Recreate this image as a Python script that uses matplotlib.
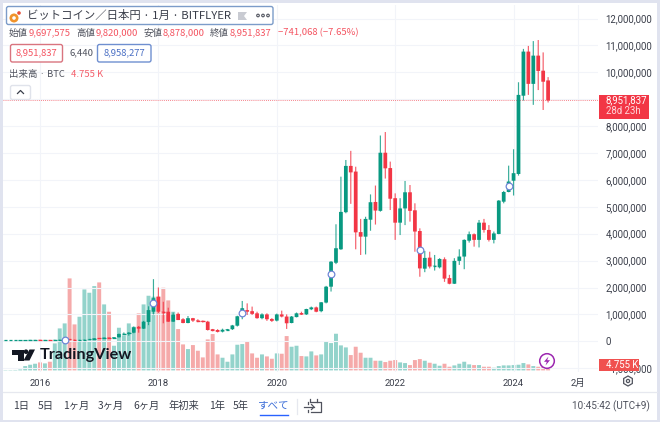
import matplotlib
matplotlib.use('Agg')
import matplotlib.pyplot as plt
from matplotlib.patches import Rectangle, FancyBboxPatch, Circle, Polygon, RegularPolygon
import numpy as np

plt.rcParams['font.family'] = ['Noto Sans CJK JP', 'DejaVu Sans']

# months counted from 2016-01, million yen
months = np.arange(-7, 104)
opens = [.028, .033, .032, .034, .038, .045, .052,
         .054, .044, .050, .049, .054, .060, .070, .065, .060, .062, .070, .080,
         .110, .109, .135, .120, .150, .270, .280, .320, .540, .470, .720, 1.10,
         1.66, 1.10, 1.10, .73, 1.02, .82, .68, .86, .78, .76, .73, .45,
         .42, .36, .41, .45, .58, .94, 1.16, 1.12, 1.04, .86, 1.00, .83,
         .77, 1.00, .92, .68, .90, 1.05, 1.00, 1.19, 1.26, 1.12, 1.44, 2.03,
         2.92, 3.42, 4.80, 6.52, 6.31, 4.06, 3.89, 4.52, 5.18, 4.85, 7.01, 6.44,
         5.32, 4.41, 4.94, 5.54, 4.87, 4.10, 2.70, 3.11, 2.80, 2.75, 3.05, 2.35,
         2.14, 2.99, 3.15, 3.74, 3.98, 3.77, 4.41, 4.14, 3.77, 3.99, 5.19, 5.55,
         5.97, 6.22, 9.13, 10.77, 9.57, 10.62, 10.06, 9.697575]
highs = [.034, .035, .035, .039, .046, .053, .056,
         .056, .052, .052, .056, .062, .072, .080, .072, .066, .072, .082, .115,
         .125, .140, .150, .155, .290, .330, .340, .550, .570, .760, 1.30,
         2.31, 2.00, 1.47, 1.25, 1.07, 1.07, .86, .94, .87, .82, .77, .76,
         .46, .45, .47, .46, .61, .95, 1.50, 1.41, 1.29, 1.10, 1.04, 1.04,
         .86, 1.03, 1.14, 1.00, .94, 1.07, 1.10, 1.21, 1.29, 1.29, 1.46, 2.06,
         2.98, 4.35, 6.12, 6.74, 7.08, 6.49, 4.55, 4.63, 5.46, 5.79, 7.65, 7.78,
         6.68, 5.50, 5.32, 5.96, 5.81, 5.13, 4.20, 3.36, 3.33, 3.21, 3.09, 3.12,
         2.47, 3.09, 3.42, 3.79, 4.08, 4.01, 4.51, 4.55, 4.32, 4.08, 5.25, 5.59,
         6.53, 7.14, 9.63, 10.87, 10.98, 11.16, 11.20, 10.74, 9.82]
lows = [.026, .031, .030, .033, .037, .044, .050,
        .042, .042, .047, .047, .052, .058, .060, .058, .058, .060, .066, .078,
        .100, .105, .110, .115, .140, .240, .210, .300, .320, .460, .600, 1.00,
        1.04, .67, .72, .72, .79, .67, .67, .72, .71, .70, .40, .37,
        .33, .33, .40, .42, .55, .82, .98, .98, .84, .82, .76, .72,
        .74, .89, .46, .67, .89, .98, .98, 1.16, 1.08, 1.08, 1.41, 1.85,
        2.87, 3.40, 4.76, 5.11, 3.42, 3.21, 3.23, 4.11, 4.34, 4.82, 6.05, 4.88,
        3.77, 3.95, 4.32, 4.45, 3.33, 2.40, 2.57, 2.71, 2.63, 2.71, 2.21, 2.12,
        2.13, 2.84, 2.68, 3.67, 3.52, 3.49, 4.04, 3.71, 3.64, 3.98, 5.13, 5.54,
        5.42, 6.16, 8.95, 9.16, 8.79, 9.34, 8.60, 8.878]
closes = [.033, .034, .034, .038, .045, .052, .054,
          .044, .050, .049, .054, .060, .070, .065, .060, .062, .070, .080, .110,
          .109, .135, .120, .150, .270, .280, .320, .520, .470, .730, 1.16, 1.60,
          1.10, 1.08, .73, 1.00, .79, .68, .86, .77, .76, .73, .42, .38,
          .35, .43, .45, .59, .93, 1.23, 1.10, 1.02, .86, 1.00, .82, .76,
          1.00, .92, .67, .92, 1.04, .99, 1.20, 1.26, 1.10, 1.45, 2.03, 2.96,
          3.46, 4.81, 6.52, 6.28, 4.05, 3.89, 4.55, 5.17, 4.86, 7.01, 6.43, 5.30,
          4.41, 4.94, 5.54, 4.85, 4.08, 2.71, 3.10, 2.78, 2.81, 3.06, 2.33, 2.14,
          2.99, 3.15, 3.77, 3.98, 3.77, 4.41, 4.14, 3.77, 4.01, 5.23, 5.55, 5.94,
          6.25, 9.16, 10.77, 9.57, 10.62, 10.05, 9.65, 8.951837]
# thousand BTC
volumes = [.3, .3, .4, .9, 3.9, 5.1, 6.0,
           7.2, 6.3, 7.8, 24.3, 37.8, 42.3, 82.8, 41.4, 48.3, 72.9, 69.9, 75.9,
           79.2, 59.4, 52.8, 22.2, 38.4, 31.5, 42.3, 39.3, 51.3, 59.4, 67.2, 66.3,
           66.3, 74.4, 63.0, 52.8, 37.2, 23.4, 19.2, 22.8, 17.7, 11.7, 27.9, 32.7,
           14.4, 11.4, 7.8, 14.4, 23.1, 23.7, 26.4, 15.3, 11.4, 14.4, 12.6, 10.5,
           15.3, 15.0, 30.9, 21.3, 22.2, 12.9, 12.6, 17.1, 13.5, 14.4, 26.4, 24.6,
           33.0, 22.5, 20.7, 13.8, 21.3, 15.9, 11.4, 11.4, 8.7, 8.7, 7.5, 8.7,
           9.3, 7.2, 6.6, 4.8, 9.3, 10.2, 8.7, 6.9, 6.0, 4.2, 6.0, 3.3,
           4.5, 6.0, 7.8, 5.4, 4.8, 4.8, 3.3, 3.3, 2.4, 3.9, 4.5, 4.5,
           4.8, 5.1, 6.6, 5.4, 3.9, 3.3, 3.0, 4.755]
# dividend style markers
event_months = [5, 23, 41, 59, 77, 95]
event_prices = [.05, 1.41, 1.07, 2.49, 3.38, 5.78]

year_ticks = [0, 24, 48, 72, 96, 109]
year_labels = ['2016', '2018', '2020', '2022', '2024', '2月']
price_ticks = list(range(-1, 13))

UP = '#089981'
DOWN = '#F23645'
VOL_UP = '#93D3CB'
VOL_DOWN = '#F5AAAA'
TXT = '#50535E'
W, H = 660, 422

fig = plt.figure(figsize=(W / 100, H / 100), dpi=100, facecolor='white')

# plot area in pixels
left, right, top, bottom = 3, 598, 5, 372
rect = [left / W, 1 - bottom / H, (right - left) / W, (bottom - top) / H]
xlim = ((left - 40) / 4.933, (right - 40) / 4.933)

ax_vol = fig.add_axes(rect, zorder=1)
ax = fig.add_axes(rect, zorder=2)
ax.patch.set_visible(False)

opens = np.array(opens)
closes = np.array(closes)
cols = [UP if c >= o else DOWN for o, c in zip(opens, closes)]
vol_cols = [VOL_UP if c >= o else VOL_DOWN for o, c in zip(opens, closes)]

# volume, snapping off so every bar keeps the same width
vol_bars = ax_vol.bar(months, volumes, width=0.8, color=vol_cols, linewidth=0)
for b in vol_bars:
    b.set_snap(False)
ax_vol.set_xlim(xlim)
ax_vol.set_ylim(-1.44, 328.9)
ax_vol.axis('off')

# candles
wicks = ax.vlines(months, lows, highs, colors=cols, linewidth=0.85, alpha=0.8, zorder=3)
wicks.set_snap(False)
bodies = ax.bar(months, np.abs(closes - opens), bottom=np.minimum(opens, closes), width=0.76,
                color=cols, linewidth=0, zorder=4)
for b in bodies:
    b.set_snap(False)
for i, o, c in zip(months, opens, closes):
    # flat months still need a visible dash
    if abs(c - o) < 0.05:
        ax.hlines((o + c) / 2, i - 0.36, i + 0.36, colors=UP if c >= o else DOWN, linewidth=0.9, zorder=4)

ax.plot(event_months, event_prices, 'o', ms=4.8, mfc='white', mec='#6F86D6', mew=0.9, zorder=5)
ax.axhline(closes[-1], color=DOWN, linestyle=(0, (1, 1.5)), linewidth=0.6, alpha=0.8, zorder=2)

ax.set_xlim(xlim)
ax.set_ylim((341.3 - bottom) / 26.9, (341.3 - top) / 26.9)
ax.set_yticks(price_ticks)
ax.set_yticklabels([f'{v * 1000000:,}'.replace('-', '\u2212') for v in price_ticks],
                   fontsize=6.9, color='#3A3E4A', family='Roboto', ha='left')
ax.yaxis.tick_right()
ax.set_xticks(year_ticks)
ax.set_xticklabels(year_labels, fontsize=6.8, color='#3A3E4A', family=['Roboto', 'Noto Sans CJK JP'])
ax.tick_params(axis='both', length=0)
ax.tick_params(axis='y', pad=5.3)
ax.tick_params(axis='x', pad=5)
ax.grid(True, color='#F2F4F9', linewidth=0.8, zorder=0)
ax.set_axisbelow(True)
for s in ax.spines.values():
    s.set_visible(False)

# widgets and legend drawn in pixel coordinates on top
ov = fig.add_axes([0, 0, 1, 1], zorder=5)
ov.set_xlim(0, W)
ov.set_ylim(H, 0)
ov.axis('off')


def txt(x, y, s, color=TXT, size=7.0, ha='left', **kw):
    ov.text(x, y, s, color=color, fontsize=size, ha=ha, va='center', **kw)


def box(x0, y0, x1, y1, ec, fc='white', lw=1.0, r=2):
    ov.add_patch(FancyBboxPatch((x0, y0), x1 - x0, y1 - y0, boxstyle=f'round,pad=0,rounding_size={r}',
                                ec=ec, fc=fc, lw=lw))


# page edges
ov.add_patch(Rectangle((0, 0), 3, H, fc='#E0E3EF', lw=0))
ov.add_patch(Rectangle((0, 0), W, 3, fc='#E0E3EF', lw=0))
ov.add_patch(Rectangle((657, 0), 3, H, fc='#E0E3EF', lw=0))
ov.add_patch(Rectangle((0, 420), W, 2, fc='#E0E3EF', lw=0))
ov.plot([3, 657], [392, 392], color='#E6E8EF', lw=0.9)

# title
box(6.5, 6.5, 273, 24.5, '#7C9CC9')
ov.add_patch(Circle((14, 18), 4.5, fc='#F0932B', lw=0))
ov.add_patch(Circle((14, 18), 1.8, fc='white', lw=0))
ov.add_patch(Circle((19, 13), 1.8, fc='#E8503A', lw=0))
txt(27, 15.5, 'ビットコイン／日本円 · 1月 · BITFLYER', color='#3A3E4A', size=8.2)
ov.add_patch(Polygon([(238, 12), (247, 12), (244, 16), (247, 20), (238, 20)], fc='#C9CBD2', lw=0))
for dx in (258, 263, 268):
    ov.add_patch(Circle((dx, 15.5), 1.3, fc='white', ec='#50535E', lw=0.8))

# OHLC row
row = [(9, '始値', TXT), (29, '9,697,575', DOWN), (76, '高値', TXT), (96, '9,820,000', DOWN),
       (143, '安値', TXT), (163, '8,878,000', DOWN), (210, '終値', TXT), (230, '8,951,837', DOWN),
       (278, '\u2212741,068 (\u22127.65%)', DOWN)]
for x, s, c in row:
    txt(x, 33, s, color=c, size=6.8, alpha=0.85 if c == DOWN else 1)

box(10.5, 44.5, 62.5, 62, '#D9747F')
txt(36.5, 53, '8,951,837', color=DOWN, size=6.8, ha='center', alpha=0.85)
txt(69, 53, '6,440', color=TXT, size=6.8)
box(97.5, 44.5, 151, 62, '#6F8FD0')
txt(124, 53, '8,958,277', color='#4A6FC4', size=6.8, ha='center')
txt(9, 74, '出来高 · BTC', size=6.8)
txt(71, 74.5, '4.755 K', color=DOWN, size=6.8, alpha=0.8)
box(10.5, 85.5, 30.5, 99.5, '#E0E3EB')
ov.plot([17.5, 20.5, 23.5], [93.5, 90.5, 93.5], color='#3A3E4A', lw=0.9)

# price labels on the scale
ov.add_patch(Rectangle((599, 95), 49.5, 23.5, fc='#F23645', lw=0))
txt(605.5, 100.7, '8,951,837', color='white', size=6.9, family='Roboto')
txt(605.5, 111.3, '28d 23h', color='#FFD7DB', size=6.9, family='Roboto')
ov.add_patch(Rectangle((599, 359), 39.5, 12, fc='#F0504F', lw=0))
txt(605.5, 365, '4.755 K', color='white', size=6.9, family='Roboto')

# TradingView mark
ov.add_patch(Polygon([(12, 349.5), (23.5, 349.5), (23.5, 360.5), (18, 360.5), (18, 354.5), (12, 354.5)],
                     fc='#131722', lw=0))
ov.add_patch(Circle((26, 351.7), 2.3, fc='#131722', lw=0))
ov.add_patch(Polygon([(29.5, 349.5), (35, 349.5), (29.5, 360.5), (23.5, 360.5)], fc='#131722', lw=0))
txt(39.5, 355, 'TradingView', color='#131722', size=11.7, family='Lato', fontweight='bold')

# lightning badge
ov.add_patch(Circle((547, 361), 7.3, fc='white', ec='#9C27B0', lw=1.1))
ov.add_patch(Polygon([(548.5, 356.5), (544, 361.8), (546.8, 361.8), (545.5, 365.5), (550, 360.2), (547.2, 360.2)],
                     fc='#9C27B0', lw=0))

# scale settings
ov.add_patch(RegularPolygon((628, 381), 6, radius=5, fc='white', ec='#50535E', lw=0.9))
ov.add_patch(Circle((628, 381), 1.6, fc='white', ec='#50535E', lw=0.9))

# range buttons
for x, s in [(21, '1日'), (46, '5日'), (76, '1ヶ月'), (111, '3ヶ月'), (146, '6ヶ月'),
             (184, '年初来'), (217, '1年'), (241, '5年')]:
    txt(x, 406, s, color='#3A3E4A', size=7.4, ha='center')
txt(274, 406, 'すべて', color='#3E6FD8', size=7.6, ha='center')
ov.plot([259.5, 288], [415, 415], color='#2962FF', lw=1.0)
ov.plot([297, 297], [399, 414], color='#E6E8EF', lw=0.9)

# date range icon
ic = '#50535E'
ov.plot([311, 321, 321, 311], [402, 402, 412, 412], color=ic, lw=0.9)
ov.plot([308, 308], [402, 404], color=ic, lw=0.9)
ov.plot([308, 308], [410, 412], color=ic, lw=0.9)
ov.plot([310, 310], [399, 402], color=ic, lw=0.9)
ov.plot([317, 317], [399, 402], color=ic, lw=0.9)
ov.plot([304, 314], [407, 407], color=ic, lw=0.9)
ov.plot([311.5, 314, 311.5], [404.5, 407, 409.5], color=ic, lw=0.9)
txt(650, 406, '10:45:42 (UTC+9)', color='#50535E', size=7.2, ha='right', family='Roboto')

fig.savefig('out.png', dpi=100)
